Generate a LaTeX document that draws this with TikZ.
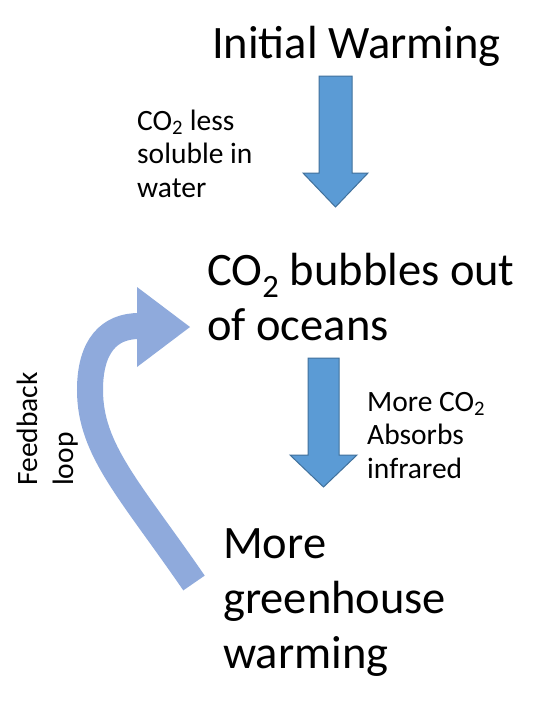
\documentclass[tikz,border=0pt]{standalone}
\usepackage{fontspec}
\setmainfont{Carlito}
\definecolor{arrowfill}{HTML}{5B9BD5}
\definecolor{arrowline}{HTML}{41719C}
\definecolor{loopfill}{HTML}{8FAADC}
\newcommand{\cotwo}{CO\textsubscript{2}}
\begin{document}
\begin{tikzpicture}[x=1pt,y=-1pt,
  big/.style={font=\fontsize{46.5}{55}\selectfont, align=left, inner sep=0pt, anchor=base west},
  small/.style={font=\fontsize{29.5}{33.5}\selectfont, align=left, inner sep=0pt, anchor=base west},
  blockarrow/.style={fill=arrowfill, draw=arrowline, line width=1pt, line join=miter}]
\useasboundingbox (0,0) rectangle (553,712);
\fill[white] (0,0) rectangle (553,712);
% texts (anchored at the baseline of their last line)
\node[big] (init) at (212,58) {Initial Warming};
\node[big] (bub) at (207,340) {\cotwo{} bubbles out\\of oceans};
\node[big] (more) at (223,668) {More\\greenhouse\\warming};
\node[small] (sol) at (137,197) {\cotwo{} less\\soluble in\\water};
\node[small] (abs) at (367,478) {More \cotwo\\Absorbs\\infrared};
\node[small, font=\fontsize{29.5}{36}\selectfont, rotate=90] (fb) at (73,486) {Feedback\\loop};
% straight block arrows
\draw[blockarrow] (319,76) -- (352,76) -- (352,173) -- (368,173) -- (335.5,207) -- (303,173) -- (319,173) -- cycle;
\draw[blockarrow] (308,358) -- (339,358) -- (339,455) -- (357,455) -- (323.5,487) -- (290,455) -- (308,455) -- cycle;
% curved feedback arrow
\coordinate (tail) at (194,583);
\coordinate (turn) at (90,390);
\coordinate (headbase) at (139,326);
\draw[loopfill, line width=26pt] (tail) .. controls (130,490) and (90,450) .. (turn) .. controls (90,345) and (110,326) .. (headbase);
\fill[loopfill] (137,287) -- (190,327) -- (137,367) -- cycle;
\end{tikzpicture}
\end{document}
